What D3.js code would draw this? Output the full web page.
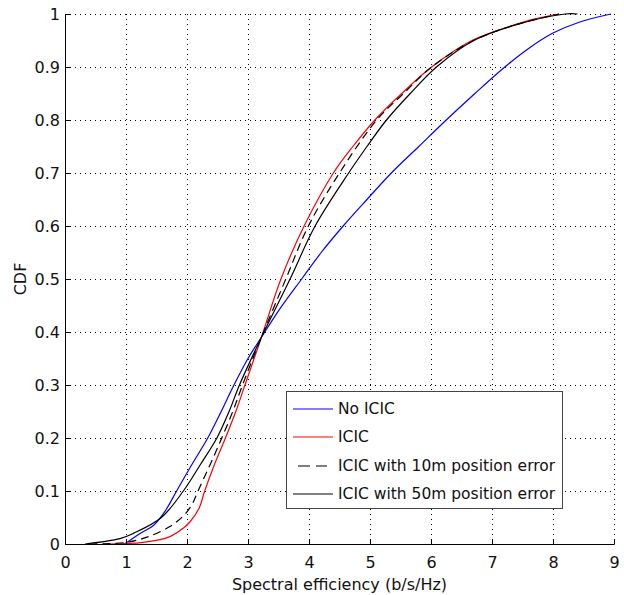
<!DOCTYPE html>
<html>
<head>
<meta charset="utf-8">
<script src="https://cdn.jsdelivr.net/npm/d3@7"></script>
<style>
  body { margin: 0; background: #fff; }
  text { font-family: "DejaVu Sans", sans-serif; fill: #111; }
</style>
</head>
<body>
<div id="chart"></div>
<script>
// values: [spectral efficiency, CDF]
const noIcic = [[0.95,0],[1.0,0.002],[1.23,0.02],[1.45,0.035],[1.63,0.06],[1.83,0.1],[2.08,0.15],[2.34,0.2],[2.56,0.25],[2.77,0.3],[3.0,0.35],[3.22,0.39],[3.5,0.44],[3.88,0.5],[4.2,0.55],[4.56,0.6],[4.95,0.65],[5.35,0.7],[5.8,0.75],[6.25,0.8],[6.72,0.85],[7.21,0.9],[7.6,0.935],[8.0,0.964],[8.44,0.985],[8.95,1.0]];
const icic = [[0.7,0],[1.28,0.003],[1.72,0.014],[1.94,0.03],[2.05,0.042],[2.2,0.068],[2.29,0.1],[2.45,0.15],[2.63,0.2],[2.8,0.25],[2.95,0.3],[3.22,0.39],[3.54,0.5],[3.92,0.6],[4.4,0.7],[4.72,0.75],[5.08,0.8],[5.52,0.85],[6.01,0.9],[6.67,0.95],[7.38,0.98],[7.67,0.99],[8.1,1.0]];
const icic10m = [[0.4,0],[1.0,0.003],[1.37,0.014],[1.72,0.033],[1.94,0.053],[2.08,0.074],[2.18,0.1],[2.38,0.15],[2.57,0.2],[2.75,0.25],[2.91,0.3],[3.22,0.39],[3.62,0.5],[3.99,0.6],[4.5,0.7],[5.11,0.8],[5.55,0.85],[6.01,0.9],[6.7,0.95],[7.4,0.98],[8.1,1.0]];
const icic50m = [[0.33,0],[0.9,0.01],[1.12,0.02],[1.58,0.05],[1.94,0.1],[2.22,0.15],[2.49,0.2],[2.69,0.25],[2.86,0.3],[3.22,0.39],[3.69,0.5],[4.1,0.6],[4.65,0.7],[4.95,0.75],[5.27,0.8],[5.66,0.85],[6.09,0.9],[6.7,0.95],[7.4,0.98],[8.2,1.0],[8.4,1.0]];

const seriesNames = ['No ICIC', 'ICIC', 'ICIC with 10m position error', 'ICIC with 50m position error'];
const xTicks = [0, 1, 2, 3, 4, 5, 6, 7, 8, 9];
const yTicks = [0, 0.1, 0.2, 0.3, 0.4, 0.5, 0.6, 0.7, 0.8, 0.9, 1];

const series = [
    { name: seriesNames[0], values: noIcic, color: '#0000ff', dash: null },
    { name: seriesNames[1], values: icic, color: '#ff0000', dash: null },
    { name: seriesNames[2], values: icic10m, color: '#000', dash: '8,5' },
    { name: seriesNames[3], values: icic50m, color: '#000', dash: null }
];

const width = 624, height = 595;
const margin = { top: 14, right: 10, bottom: 51, left: 65 };
const w = width - margin.left - margin.right;
const h = height - margin.top - margin.bottom;

const svg = d3.select('#chart').append('svg')
    .attr('width', width)
    .attr('height', height);

const g = svg.append('g')
    .attr('transform', 'translate(' + margin.left + ',' + margin.top + ')');

const x = d3.scaleLinear().domain([0, 9]).range([0, w]);
const y = d3.scaleLinear().domain([0, 1]).range([h, 0]);

// dotted grid
g.append('g').selectAll('line')
    .data(xTicks.slice(1))
    .join('line')
    .attr('x1', d => Math.round(x(d)) + 0.5).attr('x2', d => Math.round(x(d)) + 0.5)
    .attr('y1', 0).attr('y2', h)
    .attr('stroke', '#000').attr('stroke-width', 1)
    .attr('stroke-dasharray', '1,4');
g.append('g').selectAll('line')
    .data(yTicks.slice(1))
    .join('line')
    .attr('x1', 0).attr('x2', w)
    .attr('y1', d => Math.round(y(d)) + 0.5).attr('y2', d => Math.round(y(d)) + 0.5)
    .attr('stroke', '#000').attr('stroke-width', 1)
    .attr('stroke-dasharray', '1,4');

// curves
const line = d3.line()
    .x(d => x(d[0]))
    .y(d => y(d[1]))
    .curve(d3.curveCatmullRom.alpha(0.5));

g.selectAll('path.series')
    .data(series)
    .join('path')
    .attr('class', 'series')
    .attr('d', d => line(d.values))
    .attr('fill', 'none')
    .attr('stroke', d => d.color)
    .attr('stroke-width', 1.2)
    .attr('stroke-dasharray', d => d.dash);

// axes, ticks pointing inward
const xAxis = g.append('g')
    .attr('transform', 'translate(0,' + h + ')')
    .call(d3.axisBottom(x).tickValues(xTicks).tickSize(-5).tickPadding(13).tickFormat(d3.format('d')));
const yAxis = g.append('g')
    .call(d3.axisLeft(y).tickValues(yTicks).tickSize(-5).tickPadding(5).tickFormat(d => d === 0 || d === 1 ? d : d3.format('.1f')(d)));
[xAxis, yAxis].forEach(a => {
    a.select('.domain').attr('stroke', '#000');
    a.selectAll('.tick line').attr('stroke', '#000');
    a.selectAll('.tick text').attr('font-size', 16).attr('font-family', '"DejaVu Sans", sans-serif').attr('fill', '#111');
});

svg.append('text')
    .attr('x', margin.left + w / 2)
    .attr('y', 590)
    .attr('text-anchor', 'middle')
    .attr('font-size', 16)
    .text('Spectral efficiency (b/s/Hz)');

svg.append('text')
    .attr('transform', 'translate(26,' + (margin.top + h / 2) + ') rotate(-90)')
    .attr('text-anchor', 'middle')
    .attr('font-size', 16)
    .text('CDF');

// legend
const legend = svg.append('g').attr('transform', 'translate(286,391)');
legend.append('rect')
    .attr('x', 0.5).attr('y', 0.5)
    .attr('width', 276).attr('height', 117)
    .attr('fill', '#fff')
    .attr('stroke', '#444');
const rows = legend.selectAll('g.row')
    .data(series)
    .join('g')
    .attr('transform', (d, i) => 'translate(0,' + Math.round(18 + i * 28.4) + ')');
rows.append('line')
    .attr('x1', d => d.dash ? 12 : 7).attr('x2', d => d.dash ? 41 : 47)
    .attr('stroke', d => d.color)
    .attr('stroke-width', 1.2)
    .attr('stroke-dasharray', d => d.dash ? '12,6' : null);
rows.append('text')
    .attr('x', 52)
    .attr('dy', '0.35em')
    .attr('font-size', 15.5)
    .text(d => d.name);
</script>
</body>
</html>
